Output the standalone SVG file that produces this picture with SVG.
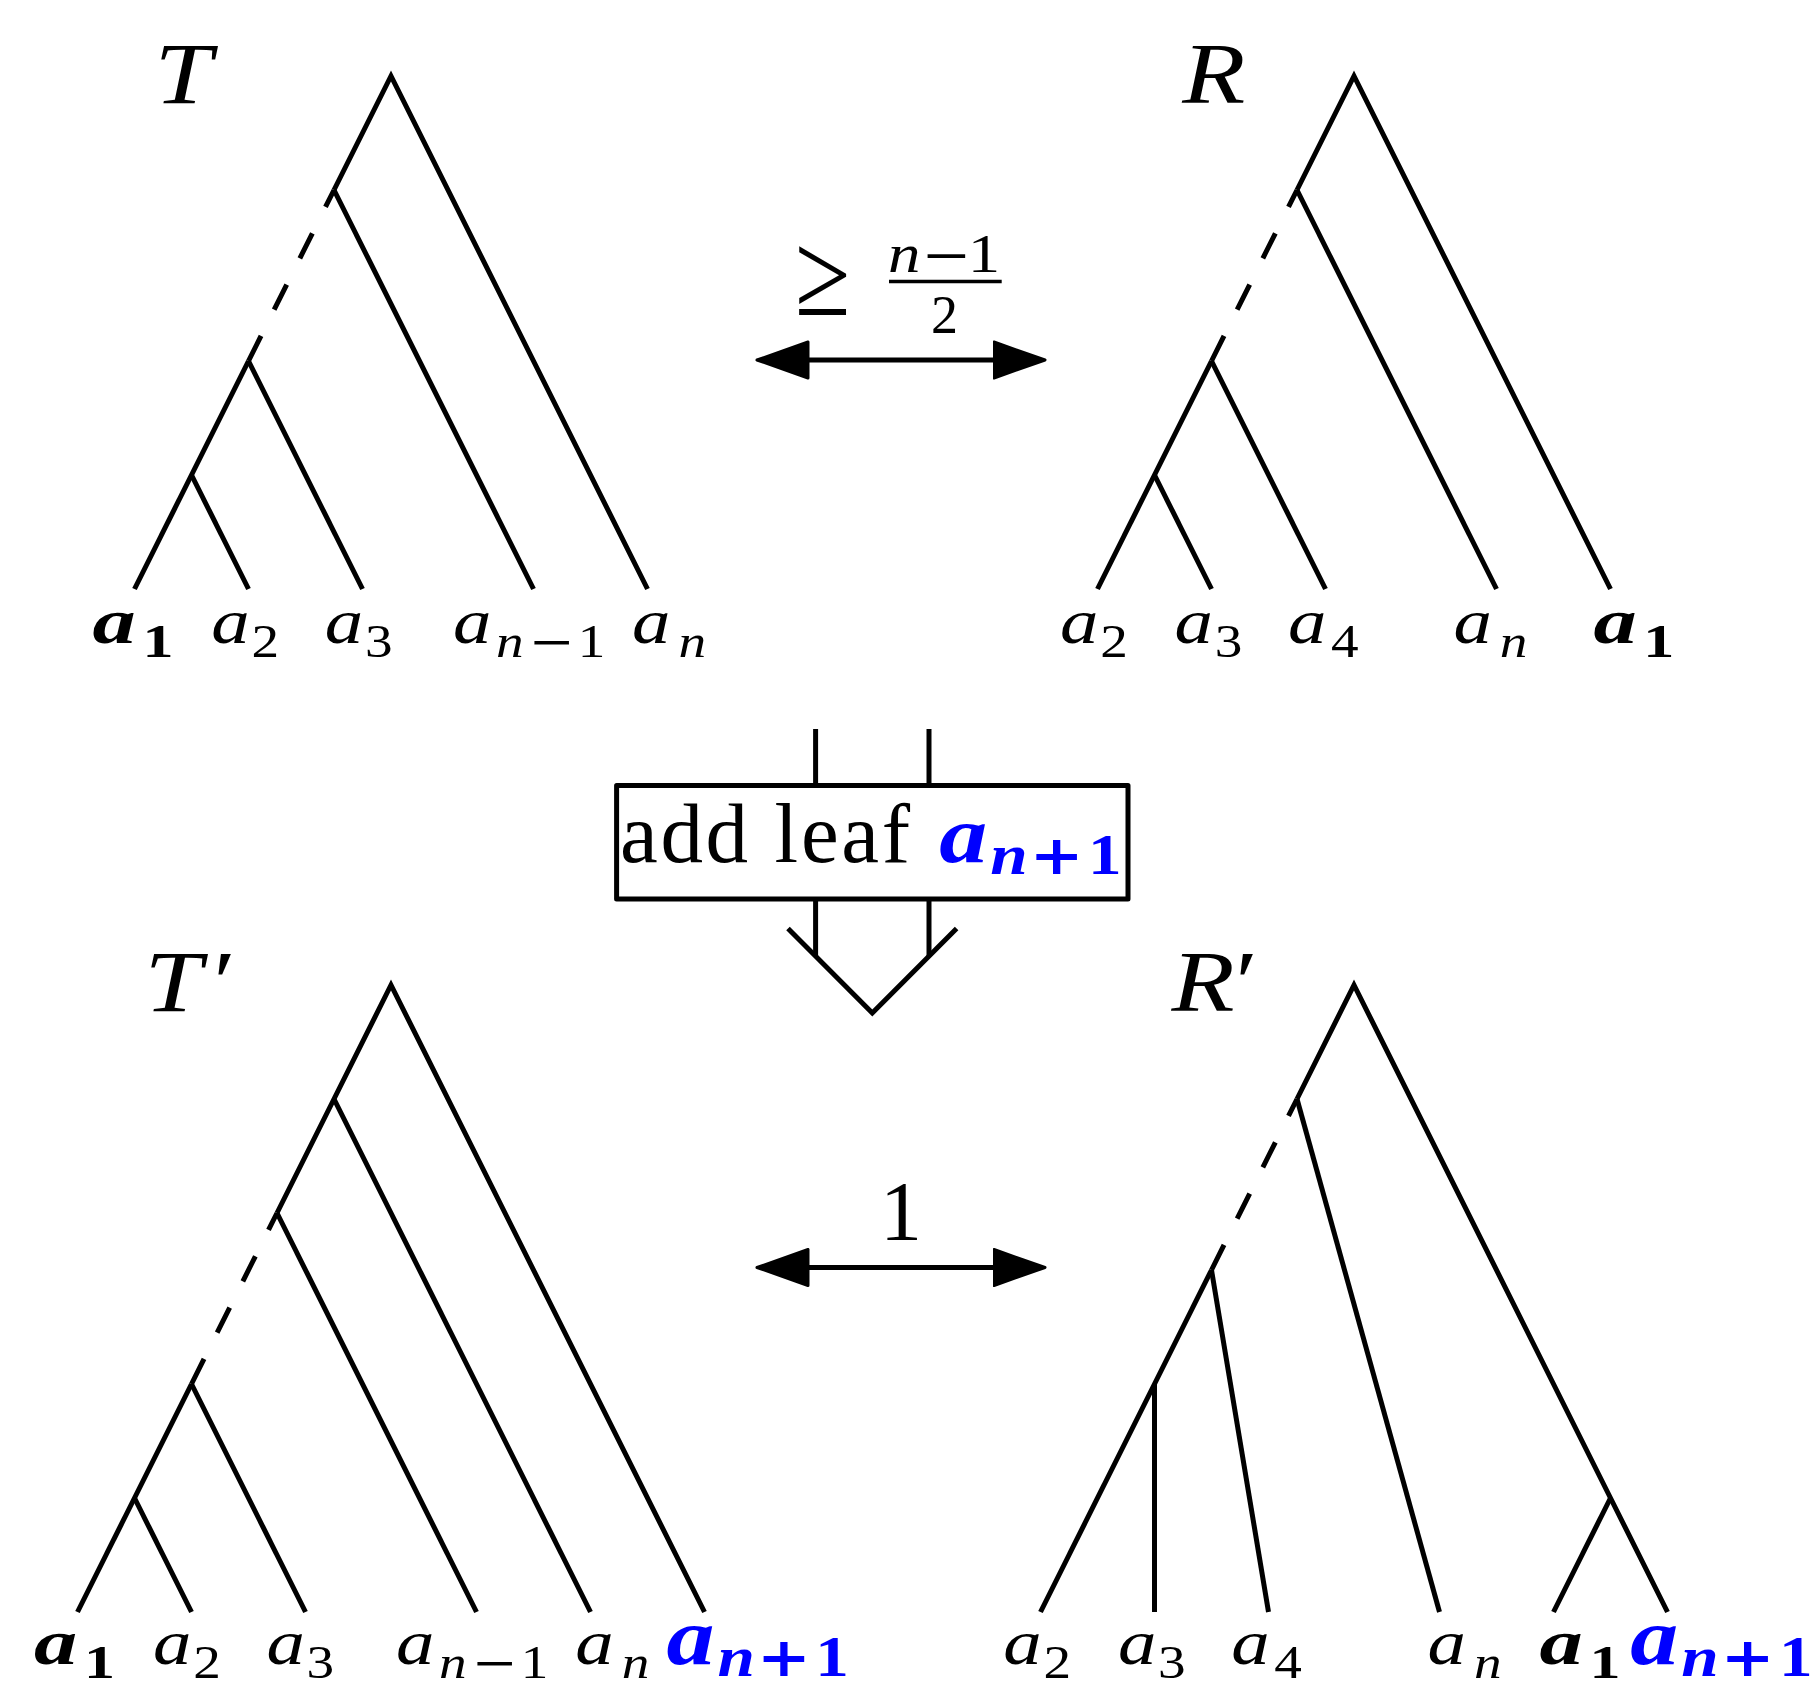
<svg xmlns="http://www.w3.org/2000/svg" width="1814" height="1681" viewBox="0 0 1814 1681">
<style>
.e{stroke:#000;stroke-width:5;fill:none}
.d{stroke-dasharray:28 29.4}
.t{font-family:"Liberation Serif",serif;fill:#000}
.i{font-style:italic}
.b{font-weight:bold}
.L{font-size:86px}
.m{font-size:64px}
.s{font-size:46px}
.sym{font-family:"DejaVu Serif",serif}
.blue{fill:#0000ff}
.bm{font-size:80px}
.bs{font-size:56px}
.bp{font-family:"DejaVu Serif",serif;font-weight:bold;font-size:54px}
</style>
<defs>
<marker id="ah" viewBox="0 0 56 40" refX="4.5" refY="20" markerWidth="56" markerHeight="40" markerUnits="userSpaceOnUse" orient="auto-start-reverse">
<path d="M1.5,2 L52.5,20 L1.5,38 Z" fill="#000" stroke="#000" stroke-width="3" stroke-linejoin="round"/>
</marker>
</defs>
<rect width="1814" height="1681" fill="#fff"/>

<g id="tree-T">
<polyline class="e" points="134.5,589 191.5,475 248.5,361"/>
<line class="e d" x1="248.5" y1="361" x2="334" y2="190"/>
<polyline class="e" points="334,190 391,76 647.5,589"/>
<line class="e" x1="191.5" y1="475" x2="248.5" y2="589"/>
<line class="e" x1="248.5" y1="361" x2="362.5" y2="589"/>
<line class="e" x1="334" y1="190" x2="533.5" y2="589"/>
<text class="t i L" transform="translate(154.6,103) scale(1.2,1)">T</text>
<text class="t" transform="translate(92.5,643) scale(1.35,1)"><tspan class="i b m" x="0">a</tspan><tspan class="b s" x="37" y="14">1</tspan></text>
<text class="t" transform="translate(211.3,643) scale(1.2,1)"><tspan class="i m" x="0">a</tspan><tspan class="s" x="33.6" y="14">2</tspan></text>
<text class="t" transform="translate(324.7,643) scale(1.2,1)"><tspan class="i m" x="0">a</tspan><tspan class="s" x="33.5" y="14">3</tspan></text>
<text class="t" transform="translate(453,643) scale(1.2,1)"><tspan class="i m" x="0">a</tspan><tspan class="i s" x="35.9" y="14">n</tspan><tspan class="sym s" x="63">−</tspan><tspan class="s" x="104">1</tspan></text>
<text class="t" transform="translate(632,643) scale(1.2,1)"><tspan class="i m" x="0">a</tspan><tspan class="i s" x="38.7" y="14">n</tspan></text>
</g>

<g id="tree-R">
<polyline class="e" points="1097.5,589 1154.5,475 1211.5,361"/>
<line class="e d" x1="1211.5" y1="361" x2="1297" y2="190"/>
<polyline class="e" points="1297,190 1354,76 1610.5,589"/>
<line class="e" x1="1154.5" y1="475" x2="1211.5" y2="589"/>
<line class="e" x1="1211.5" y1="361" x2="1325.5" y2="589"/>
<line class="e" x1="1297" y1="190" x2="1496.5" y2="589"/>
<text class="t i L" transform="translate(1182.3,103) scale(1.2,1)">R</text>
<text class="t" transform="translate(1060,643) scale(1.2,1)"><tspan class="i m" x="0">a</tspan><tspan class="s" x="33.6" y="14">2</tspan></text>
<text class="t" transform="translate(1174.6,643) scale(1.2,1)"><tspan class="i m" x="0">a</tspan><tspan class="s" x="33.5" y="14">3</tspan></text>
<text class="t" transform="translate(1288,643) scale(1.2,1)"><tspan class="i m" x="0">a</tspan><tspan class="s" x="35.8" y="14">4</tspan></text>
<text class="t" transform="translate(1453.4,643) scale(1.2,1)"><tspan class="i m" x="0">a</tspan><tspan class="i s" x="38.7" y="14">n</tspan></text>
<text class="t" transform="translate(1593.4,643) scale(1.35,1)"><tspan class="i b m" x="0">a</tspan><tspan class="b s" x="37" y="14">1</tspan></text>
</g>

<g id="tree-T-prime">
<polyline class="e" points="77.5,1612 134.5,1498 191.5,1384"/>
<line class="e d" x1="191.5" y1="1384" x2="277" y2="1213"/>
<polyline class="e" points="277,1213 334,1099 391,985 704.5,1612"/>
<line class="e" x1="134.5" y1="1498" x2="191.5" y2="1612"/>
<line class="e" x1="191.5" y1="1384" x2="305.5" y2="1612"/>
<line class="e" x1="277" y1="1213" x2="476.5" y2="1612"/>
<line class="e" x1="334" y1="1099" x2="590.5" y2="1612"/>
<text class="t i L" transform="translate(144.6,1011) scale(1.2,1)">T<tspan x="52">′</tspan></text>
<text class="t" transform="translate(34,1664) scale(1.35,1)"><tspan class="i b m" x="0">a</tspan><tspan class="b s" x="37" y="13.5">1</tspan></text>
<text class="t" transform="translate(153,1664) scale(1.2,1)"><tspan class="i m" x="0">a</tspan><tspan class="s" x="33.6" y="13.5">2</tspan></text>
<text class="t" transform="translate(266.4,1664) scale(1.2,1)"><tspan class="i m" x="0">a</tspan><tspan class="s" x="33.5" y="13.5">3</tspan></text>
<text class="t" transform="translate(396,1664) scale(1.2,1)"><tspan class="i m" x="0">a</tspan><tspan class="i s" x="35.9" y="13.5">n</tspan><tspan class="sym s" x="63">−</tspan><tspan class="s" x="104">1</tspan></text>
<text class="t" transform="translate(575.3,1664) scale(1.2,1)"><tspan class="i m" x="0">a</tspan><tspan class="i s" x="38.7" y="13.5">n</tspan></text>
<text class="t blue" transform="translate(666.5,1664) scale(1.2,1)"><tspan class="i b bm" x="0">a</tspan><tspan class="i b bs" x="42.5" y="11.6">n</tspan><tspan class="bp" x="75.2">+</tspan><tspan class="b bs" x="124">1</tspan></text>
</g>

<g id="tree-R-prime">
<polyline class="e" points="1040.5,1612 1154.5,1384 1211.5,1270"/>
<line class="e d" x1="1211.5" y1="1270" x2="1297" y2="1099"/>
<polyline class="e" points="1297,1099 1354,985 1610.5,1498 1667.5,1612"/>
<line class="e" x1="1154.5" y1="1384" x2="1154.5" y2="1612"/>
<line class="e" x1="1211.5" y1="1270" x2="1268.5" y2="1612"/>
<line class="e" x1="1297" y1="1099" x2="1439.5" y2="1612"/>
<line class="e" x1="1610.5" y1="1498" x2="1553.5" y2="1612"/>
<text class="t i L" transform="translate(1171.4,1011) scale(1.2,1)">R<tspan x="48">′</tspan></text>
<text class="t" transform="translate(1003.3,1664) scale(1.2,1)"><tspan class="i m" x="0">a</tspan><tspan class="s" x="33.6" y="13.5">2</tspan></text>
<text class="t" transform="translate(1117.9,1664) scale(1.2,1)"><tspan class="i m" x="0">a</tspan><tspan class="s" x="33.5" y="13.5">3</tspan></text>
<text class="t" transform="translate(1231.3,1664) scale(1.2,1)"><tspan class="i m" x="0">a</tspan><tspan class="s" x="35.8" y="13.5">4</tspan></text>
<text class="t" transform="translate(1427.5,1664) scale(1.2,1)"><tspan class="i m" x="0">a</tspan><tspan class="i s" x="38.7" y="13.5">n</tspan></text>
<text class="t" transform="translate(1539.5,1664) scale(1.35,1)"><tspan class="i b m" x="0">a</tspan><tspan class="b s" x="37" y="13.5">1</tspan></text>
<text class="t blue" transform="translate(1630.2,1664) scale(1.2,1)"><tspan class="i b bm" x="0">a</tspan><tspan class="i b bs" x="42.5" y="11.6">n</tspan><tspan class="bp" x="75.2">+</tspan><tspan class="b bs" x="124">1</tspan></text>
</g>

<g id="add-leaf">
<line class="e" x1="815.6" y1="729" x2="815.6" y2="785.5"/>
<line class="e" x1="929" y1="729" x2="929" y2="785.5"/>
<rect x="616.6" y="785.5" width="511.4" height="113.4" fill="none" stroke="#000" stroke-width="5" stroke-linejoin="round"/>
<line class="e" x1="815.6" y1="898.9" x2="815.6" y2="956"/>
<line class="e" x1="929" y1="898.9" x2="929" y2="956"/>
<polyline class="e" points="788,928.5 872.3,1013 956.6,928.5"/>
<text class="t" x="620" y="862" font-size="85" textLength="290" lengthAdjust="spacing">add leaf</text>
<text class="t blue" transform="translate(939.3,862) scale(1.2,1)"><tspan class="i b bm" x="0">a</tspan><tspan class="i b bs" x="42.5" y="11.6">n</tspan><tspan class="bp" x="75.2">+</tspan><tspan class="b bs" x="124">1</tspan></text>
</g>

<g id="connectors">
<line class="e" x1="805" y1="360" x2="997" y2="360" marker-start="url(#ah)" marker-end="url(#ah)"/>
<line class="e" x1="805" y1="1267.5" x2="997" y2="1267.5" marker-start="url(#ah)" marker-end="url(#ah)"/>
<text class="t" transform="translate(795,315) scale(1.05,1.25)" font-size="96">≥</text>
<text class="t" transform="translate(888,272) scale(1.2,1)"><tspan class="i" x="0" font-size="54">n</tspan><tspan class="sym" x="28" font-size="50">−</tspan><tspan x="66.5" font-size="54">1</tspan></text>
<line x1="889" y1="281.5" x2="1001.7" y2="281.5" stroke="#000" stroke-width="3.3"/>
<text class="t" x="931" y="333" font-size="54">2</text>
<text class="t" x="901" y="1240" font-size="84" text-anchor="middle">1</text>
</g>
</svg>
